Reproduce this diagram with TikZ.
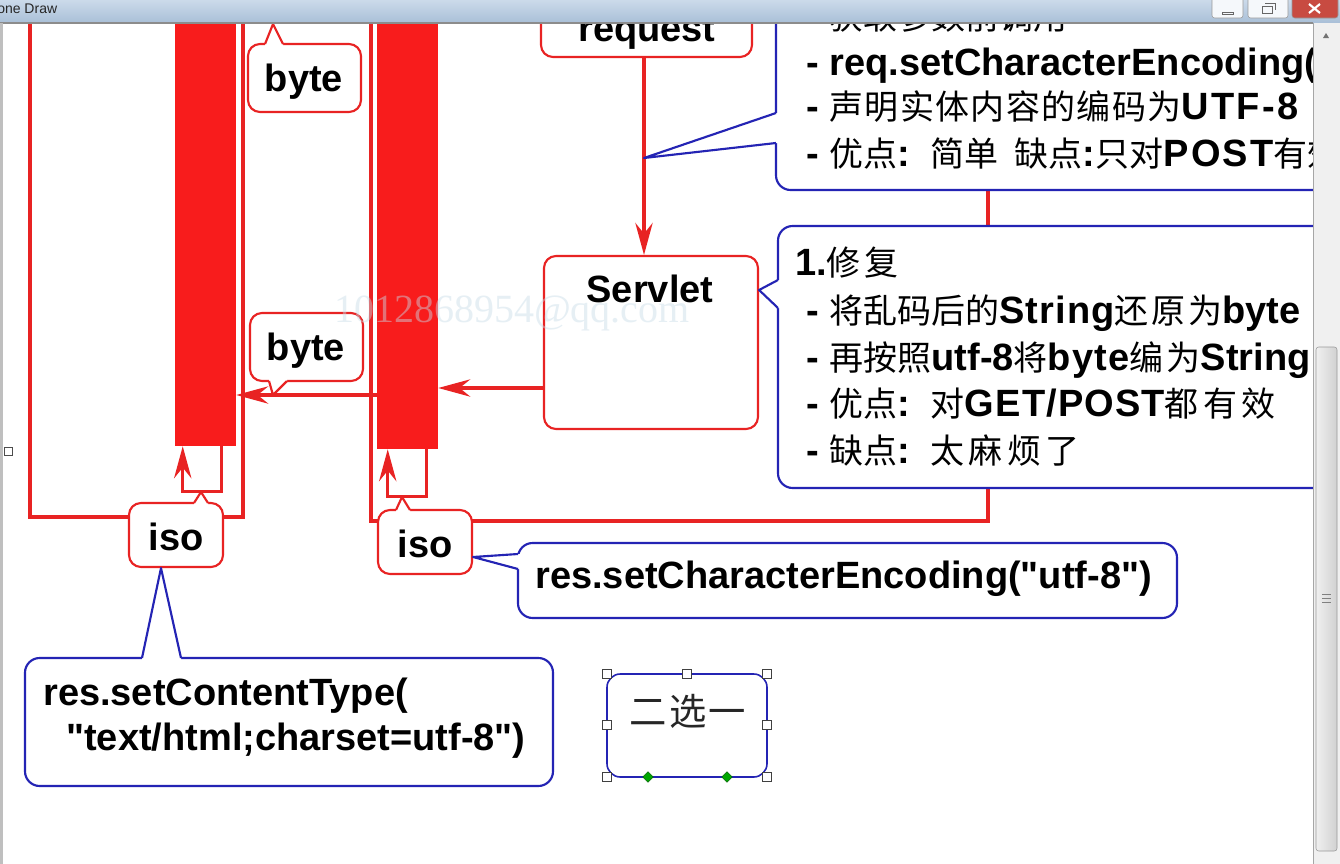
\documentclass[tikz,border=0pt]{standalone}
\usepackage{fontspec}
\setmainfont{Liberation Sans}[Ligatures=TeXOff]
\newfontfamily\cjk{Noto Sans CJK SC}
\newfontfamily\wmfont{Liberation Serif}
\usetikzlibrary{arrows.meta,calc,fit,shapes.geometric}
\definecolor{rd}{HTML}{E82323}
\definecolor{barred}{HTML}{F81C1C}
\definecolor{bl}{HTML}{2424B4}
\definecolor{wm}{HTML}{C8DCE8}
\definecolor{tbtop}{HTML}{CBDAEA}
\definecolor{tbbot}{HTML}{A9BFD7}
\newcommand\zh[1]{{\fontsize{25.5pt}{33pt}\cjk\mdseries #1}}
\newcommand\zl[2]{{\fontsize{25.5pt}{33pt}\cjk\mdseries\addfontfeature{LetterSpace=#1}#2}}
\newcommand\ls[2]{{\addfontfeature{LetterSpace=#1}#2}}
\newcommand\callptr[5]{%
  \fill[white] ($#2+#5$) -- #2 -- #4 -- #3 -- ($#3+#5$) -- cycle;
  \draw[#1, line width=1.6pt, line join=round] #2 -- #4 -- #3;}
\begin{document}
\begin{tikzpicture}[x=0.75pt,y=-0.75pt,
  rbox/.style={draw=rd, line width=1.6pt, fill=white, rounded corners=9pt, inner sep=0pt},
  bbox/.style={draw=bl, line width=1.6pt, fill=white, rounded corners=11pt, inner sep=0pt},
  rline/.style={draw=rd, line width=2.3pt},
  redbar/.style={fill=barred, draw=none, inner sep=0pt},
  arr/.style={-{Stealth[length=24pt,width=13pt,inset=8pt]}},
  lbl/.style={font=\fontsize{28.5pt}{34pt}\selectfont\bfseries, inner sep=0pt},
  handle/.style={draw=black!75, fill=white, line width=0.6pt, minimum size=7pt, inner sep=0pt},
  gdia/.style={diamond, draw=green!40!black, fill=green!65!black, minimum size=8pt, inner sep=0pt},
]
\useasboundingbox (0,0) rectangle (1340,864);
\begin{scope}
\clip (0,0) rectangle (1340,864);
\fill[white] (0,0) rectangle (1340,864);
% brackets
\draw[rline] (30,-5) -- (30,517) -- (243,517) -- (243,-5);
\draw[rline] (371,-5) -- (371,521) -- (988,521) -- (988,-5);
% bars
\node[redbar, fit={(175,-10) (236,446)}] (barL) {};
\node[redbar, fit={(377,-10) (438,449)}] (barR) {};
% loops
\draw[rline, arr] ($(barL.south east)+(-15,0)$) -- ++(0,45) -| ($(barL.south west)+(8,0)$);
\draw[rline, arr] ($(barR.south east)+(-12,0)$) -- ++(0,47) -| ($(barR.south west)+(11,0)$);
% request / servlet
\node[rbox, fit={(541,-40) (752,57)}] (request) {};
\node[rbox, fit={(544,256) (758,429)}] (servlet) {};
\draw[rline, arr] (request.south -| 644,0) -- (servlet.north -| 644,0);
\draw[rline, arr] (servlet.west |- 0,388) -- (barR.east |- 0,388);
\draw[rline, arr] (barR.west |- 0,395) -- (barL.east |- 0,395);
% red callouts
\node[rbox, fit={(248,44) (361,112)}] (byteT) {};
\callptr{rd}{(265,44)}{(283,44)}{(273,24)}{(0,4)}
\node[rbox, fit={(250,313) (363,381)}] (byteM) {};
\callptr{rd}{(269,381)}{(287,381)}{(273,395)}{(0,-4)}
\node[rbox, fit={(129,503) (223,567)}] (isoL) {};
\callptr{rd}{(194,503)}{(208,503)}{(201,492)}{(0,4)}
\node[rbox, fit={(378,510) (472,574)}] (isoR) {};
\callptr{rd}{(396,510)}{(410,510)}{(402,497)}{(0,4)}
% blue callouts
\node[bbox, fit={(776,-30) (1420,190)}] (enc) {};
\callptr{bl}{(776,113)}{(776,143)}{(644,158)}{(4,0)}
\node[bbox, fit={(778,226) (1420,488)}] (fix) {};
\callptr{bl}{(778,280)}{(778,308)}{(servlet.east |- 0,290)}{(4,0)}
\node[bbox, fit={(518,543) (1177,618)}] (resenc) {};
\callptr{bl}{(518,554)}{(518,569)}{(isoR.east |- 0,557)}{(4,0)}
\node[bbox, fit={(25,658) (553,786)}] (ctype) {};
\callptr{bl}{(142,658)}{(181,658)}{(isoL.south -| 161,0)}{(0,4)}
% choice box
\node[draw=bl, line width=1.2pt, rounded corners=10pt, fit={(607,674) (767,777)}, inner sep=0pt] (pick) {};
\node[font=\fontsize{28pt}{30pt}\cjk\addfontfeature{LetterSpace=6}, text=black!85, inner sep=0pt] (pickt) at (688,711) {二选一};
\foreach \p in {(607,674),(687,674),(767,674),(607,725),(767,725),(607,777),(767,777)}
  \node[handle] at \p {};
\node[gdia] (g1) at (648,777) {};
\node[gdia] (g2) at (727,777) {};
% labels
\node[lbl, anchor=base] (tByteT) at (304,91) {byte};
\node[lbl, anchor=base] (tByteM) at (306,360) {byte};
\node[lbl, anchor=base] (tIsoL) at (176,550) {iso};
\node[lbl, anchor=base] (tIsoR) at (425,557) {iso};
\node[lbl, anchor=base] (tReq) at (647,41) {request};
\node[lbl, anchor=base] (tServ) at (650,302) {Servlet};
\node[lbl, anchor=base west] (tCt1) at (43,705) {res.setContentType(};
\node[lbl, anchor=base west] (tCt2) at (66,750) {"text/html;charset=utf-8")};
\node[lbl, anchor=base west] (tEnc) at (535,588) {res.setCharacterEncoding("utf-8")};
% top blue box text
\node[lbl, anchor=base west] (e0) at (806,29) {- \zh{获取参数前调用}};
\node[lbl, anchor=base west] (e1) at (806,75) {- req.setCharacterEncoding("utf-8")};
\node[lbl, anchor=base west] (e2) at (806,119) {- \zl{4}{声明实体内容的编码为}\ls{6}{UTF-8}};
\node[lbl, anchor=base west] (e3) at (806,166) {- \zh{优点}:\hspace{5pt} \zh{简单}\hspace{12pt}\zh{缺点}:\zh{只对}\ls{6}{POST}\zh{有效}};
% second blue box text
\node[lbl, anchor=base west] (f0) at (795,275) {1.\zl{10}{修复}};
\node[lbl, anchor=base west] (f1) at (806,323) {- \zh{将乱码后的}\ls{3}{String}\zl{8}{还原为}byte};
\node[lbl, anchor=base west] (f2) at (806,370) {- \zh{再按照}utf-8\zh{将}\ls{3}{byte}\zl{10}{编为}String};
\node[lbl, anchor=base west] (f3) at (806,416) {- \zh{优点}:\hspace{5pt} \zh{对}\ls{3}{GET/POST}\zl{12}{都有效}};
\node[lbl, anchor=base west] (f4) at (806,463) {- \zh{缺点}:\hspace{5pt} \zl{12}{太麻烦了}};
% watermark
\node[font=\wmfont\fontsize{30pt}{32pt}\selectfont, text=wm, text opacity=0.45, anchor=base, inner sep=0pt] (wmk) at (512,322) {1012868954@qq.com};
% window chrome
\shade[top color=tbtop, bottom color=tbbot] (0,0) rectangle (1340,23);
\draw[black!45, line width=0.8pt] (0,23) -- (1313,23);
\fill[black!25] (0,23) rectangle (3,864);
\node[draw=black!70, fill=white, line width=0.6pt, minimum size=6pt, inner sep=0pt] (hdl) at (8,451) {};
\node[anchor=base west, font=\fontsize{10.5pt}{12pt}\selectfont, text=black!85, inner sep=0pt] (title) at (-3,13) {one Draw};
% buttons
\draw[black!40, fill=white!80!tbtop, rounded corners=2pt] (1212,-3) rectangle (1243,18);
\draw[black!60] (1222,12) rectangle (1233,14);
\draw[black!40, fill=white!80!tbtop, rounded corners=2pt] (1248,-3) rectangle (1288,18);
\draw[black!60] (1262,6) rectangle (1272,13);
\draw[black!60] (1265,3) -- (1275,3) -- (1275,10);
\draw[black!40, fill={rgb,255:red,200;green,75;blue,65}, rounded corners=2pt] (1292,-3) rectangle (1338,18);
\draw[white, line width=1.6pt] (1309,4) -- (1320,13) (1309,13) -- (1320,4);
% scrollbar
\fill[black!6] (1313,23) rectangle (1340,864);
\draw[black!35] (1313,23) -- (1313,864);
\fill[black!55] (1323,38) -- (1326,33) -- (1329,38) -- cycle;
\shade[left color=black!6, right color=black!18, draw=black!40, rounded corners=2pt] (1316,347) rectangle (1337,851);
\draw[black!50] (1322,594) -- (1331,594) (1322,598) -- (1331,598) (1322,602) -- (1331,602);
\end{scope}
\end{tikzpicture}
\end{document}
